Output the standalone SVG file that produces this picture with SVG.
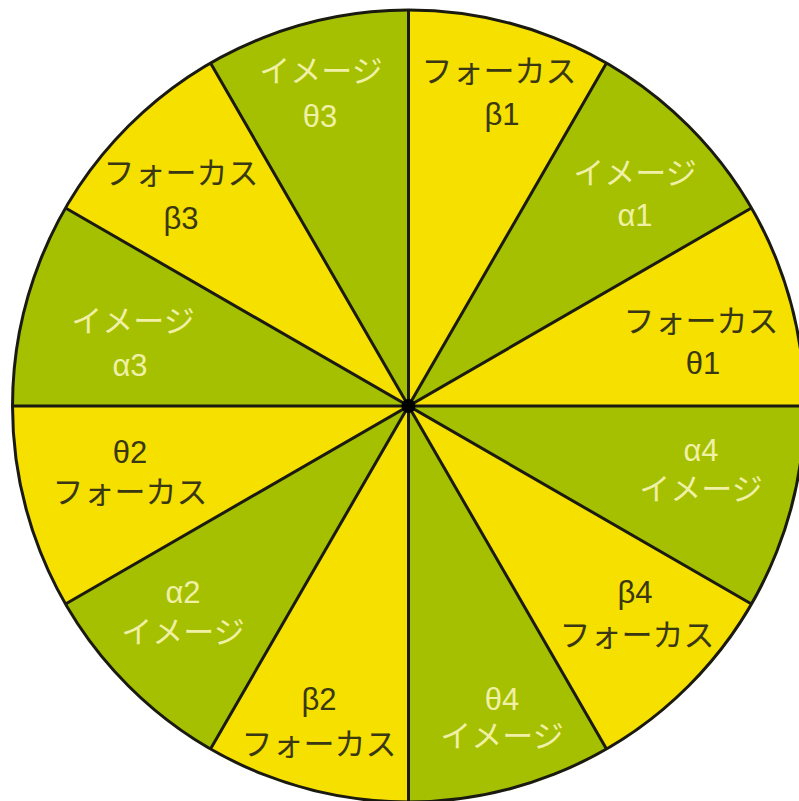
<svg xmlns="http://www.w3.org/2000/svg" width="799" height="801" viewBox="0 0 799 801">
<style>
.y{fill:#F5E000}
.g{fill:#A4C000}
.t{font-family:"Liberation Sans","Noto Sans CJK JP",sans-serif;font-size:31px;text-anchor:middle}
.dk{fill:#3A3812}
.lt{fill:#F0F0A6}
.sp{stroke:#1a1a10;stroke-width:3;fill:none}
</style>
<rect width="799" height="801" fill="#ffffff"/>
<g id="s1"><path class="y" d="M408.5 406 L408.5 10 A396 396 0 0 1 606.5 63.05 Z"/><text class="t dk" x="499" y="82">フォーカス</text><text class="t dk" x="502" y="125">β1</text></g>
<g id="s2"><path class="g" d="M408.5 406 L606.5 63.05 A396 396 0 0 1 751.45 208 Z"/><text class="t lt" x="635" y="184">イメージ</text><text class="t lt" x="635" y="226">α1</text></g>
<g id="s3"><path class="y" d="M408.5 406 L751.45 208 A396 396 0 0 1 804.5 406 Z"/><text class="t dk" x="701" y="332">フォーカス</text><text class="t dk" x="703" y="374">θ1</text></g>
<g id="s4"><path class="g" d="M408.5 406 L804.5 406 A396 396 0 0 1 751.45 604 Z"/><text class="t lt" x="701" y="461">α4</text><text class="t lt" x="701" y="500">イメージ</text></g>
<g id="s5"><path class="y" d="M408.5 406 L751.45 604 A396 396 0 0 1 606.5 748.95 Z"/><text class="t dk" x="635" y="603">β4</text><text class="t dk" x="637" y="646">フォーカス</text></g>
<g id="s6"><path class="g" d="M408.5 406 L606.5 748.95 A396 396 0 0 1 408.5 802 Z"/><text class="t lt" x="502" y="710">θ4</text><text class="t lt" x="502" y="747">イメージ</text></g>
<g id="s7"><path class="y" d="M408.5 406 L408.5 802 A396 396 0 0 1 210.5 748.95 Z"/><text class="t dk" x="319" y="710">β2</text><text class="t dk" x="319" y="755">フォーカス</text></g>
<g id="s8"><path class="g" d="M408.5 406 L210.5 748.95 A396 396 0 0 1 65.55 604 Z"/><text class="t lt" x="183" y="603">α2</text><text class="t lt" x="183" y="643">イメージ</text></g>
<g id="s9"><path class="y" d="M408.5 406 L65.55 604 A396 396 0 0 1 12.5 406 Z"/><text class="t dk" x="130" y="463">θ2</text><text class="t dk" x="130" y="503">フォーカス</text></g>
<g id="s10"><path class="g" d="M408.5 406 L12.5 406 A396 396 0 0 1 65.55 208 Z"/><text class="t lt" x="133" y="332">イメージ</text><text class="t lt" x="130" y="376">α3</text></g>
<g id="s11"><path class="y" d="M408.5 406 L65.55 208 A396 396 0 0 1 210.5 63.05 Z"/><text class="t dk" x="181" y="184">フォーカス</text><text class="t dk" x="181" y="229">β3</text></g>
<g id="s12"><path class="g" d="M408.5 406 L210.5 63.05 A396 396 0 0 1 408.5 10 Z"/><text class="t lt" x="321" y="82">イメージ</text><text class="t lt" x="320" y="127">θ3</text></g>
<g id="connectors">
<path class="sp" d="M408.5 10 L408.5 802 M606.5 63.05 L210.5 748.95 M751.45 208 L65.55 604 M804.5 406 L12.5 406 M751.45 604 L65.55 208 M606.5 748.95 L210.5 63.05"/>
<circle cx="408.5" cy="406" r="396" class="sp"/>
<circle cx="408.5" cy="406" r="7" fill="#000"/>
</g>
</svg>
